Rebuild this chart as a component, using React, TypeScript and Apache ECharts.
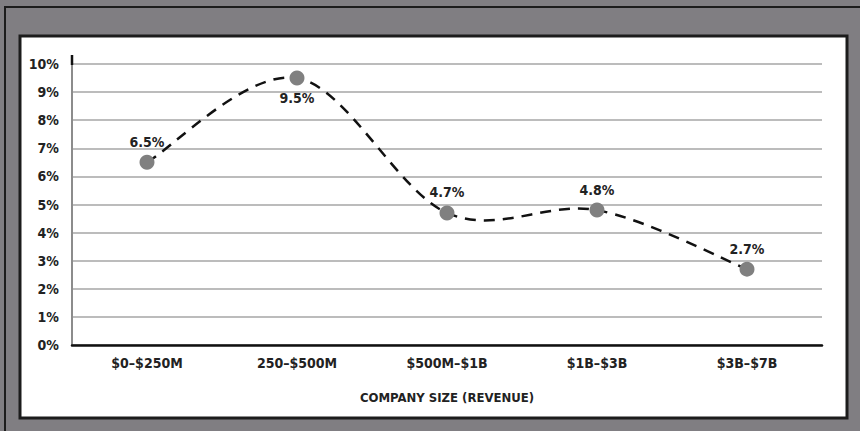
import React, { useEffect, useRef } from "react";
import * as echarts from "echarts";

// Revenue bands and the rate measured for each
const categories = ["$0–$250M", "250–$500M", "$500M–$1B", "$1B–$3B", "$3B–$7B"];
const rates = [6.5, 9.5, 4.7, 4.8, 2.7];
const yTicks = [0, 1, 2, 3, 4, 5, 6, 7, 8, 9, 10];

const FONT = "'DejaVu Sans Condensed', 'Liberation Sans Narrow', 'Liberation Sans', Arial, sans-serif";
const INK = "#222222";
// Tangent factor of the cardinal spline that joins the points
const TENSION = 1 / 6;

// Smooth dashed curve through every point, built from pixel coordinates
// that the chart's own axes give for each value.
function renderCurve(params: any, api: any) {
  if (params.dataIndex !== 0) return null;
  const pts = rates.map((v, i) => api.coord([i, v]));
  const n = pts.length;
  let d = `M ${pts[0][0]} ${pts[0][1]}`;
  for (let i = 0; i < n - 1; i++) {
    const p0 = pts[Math.max(i - 1, 0)];
    const p1 = pts[i];
    const p2 = pts[i + 1];
    const p3 = pts[Math.min(i + 2, n - 1)];
    const c1x = p1[0] + (p2[0] - p0[0]) * TENSION;
    const c1y = p1[1] + (p2[1] - p0[1]) * TENSION;
    const c2x = p2[0] - (p3[0] - p1[0]) * TENSION;
    const c2y = p2[1] - (p3[1] - p1[1]) * TENSION;
    d += ` C ${c1x} ${c1y} ${c2x} ${c2y} ${p2[0]} ${p2[1]}`;
  }
  return {
    type: "path",
    shape: { pathData: d },
    style: {
      fill: "none",
      stroke: "#111111",
      lineWidth: 2.5,
      lineDash: [11, 8],
    },
  };
}

export default function App() {
  const ref = useRef<HTMLDivElement>(null);

  useEffect(() => {
    if (!ref.current) return;
    const chart = echarts.init(ref.current, undefined, { renderer: "svg" });
    const peak = Math.max(...rates);

    chart.setOption({
      animation: false,
      backgroundColor: "#807e82",
      textStyle: { fontFamily: FONT },
      graphic: [
        {
          type: "rect",
          silent: true,
          shape: { x: 5, y: 7, width: 900, height: 500 },
          style: { fill: "none", stroke: "#1c1c1c", lineWidth: 2 },
          z: -10,
        },
        {
          type: "rect",
          silent: true,
          shape: { x: 20, y: 36, width: 827, height: 382 },
          style: { fill: "#ffffff", stroke: "#1c1c1c", lineWidth: 3 },
          z: -9,
        },
        {
          type: "line",
          silent: true,
          shape: { x1: 72, y1: 55, x2: 72, y2: 65 },
          style: { stroke: "#111111", lineWidth: 2.5 },
          z: 10,
        },
      ],
      grid: { left: 72, right: 38, top: 64, bottom: 86, containLabel: false },
      xAxis: {
        type: "category",
        data: categories,
        boundaryGap: true,
        axisLine: { show: true, lineStyle: { color: "#111111", width: 2.5 } },
        axisTick: { show: false },
        axisLabel: {
          color: INK,
          fontFamily: FONT,
          fontWeight: "bold",
          fontSize: 14,
          margin: 11,
        },
        name: "COMPANY SIZE (REVENUE)",
        nameLocation: "middle",
        nameGap: 46,
        nameTextStyle: {
          color: INK,
          fontFamily: FONT,
          fontWeight: "bold",
          fontSize: 13,
        },
        z: 5,
      },
      yAxis: {
        type: "value",
        min: yTicks[0],
        max: yTicks[yTicks.length - 1],
        interval: 1,
        axisLine: { show: true, lineStyle: { color: "#8c8c8c", width: 2 } },
        axisTick: { show: false },
        axisLabel: {
          color: INK,
          fontFamily: FONT,
          fontWeight: "bold",
          fontSize: 14,
          margin: 13,
          formatter: "{value}%",
        },
        splitLine: { show: true, lineStyle: { color: "#a6a6a6", width: 1.5 } },
      },
      series: [
        {
          type: "custom",
          renderItem: renderCurve,
          data: rates.map((v, i) => [i, v]),
          clip: false,
          silent: true,
          z: 2,
        },
        {
          type: "line",
          data: rates.map((v) => ({
            value: v,
            label: {
              position: v === peak ? "bottom" : "top",
              distance: v === peak ? 5 : 6,
            },
          })),
          symbol: "circle",
          symbolSize: 15,
          itemStyle: { color: "#808080", borderWidth: 0 },
          lineStyle: { opacity: 0 },
          label: {
            show: true,
            color: INK,
            fontFamily: FONT,
            fontWeight: "bold",
            fontSize: 14,
            formatter: (p: any) => `${p.value}%`,
          },
          z: 4,
        },
      ],
    });

    return () => chart.dispose();
  }, []);

  return (
    <div
      ref={ref}
      style={{ position: "fixed", left: 0, top: 0, width: 860, height: 431 }}
    />
  );
}
